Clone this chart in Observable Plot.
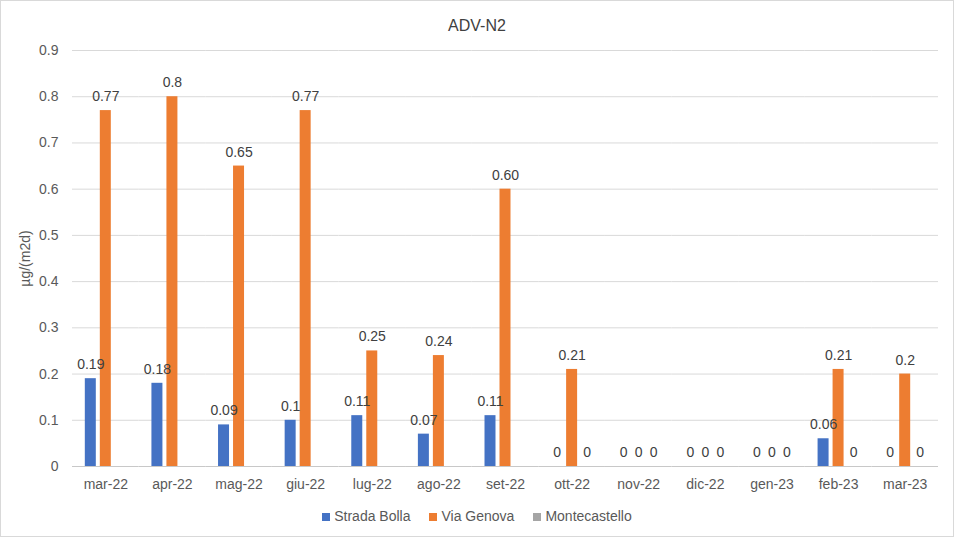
<!DOCTYPE html>
<html>
<head>
<meta charset="utf-8">
<script src="https://cdn.jsdelivr.net/npm/d3@7"></script>
<script src="https://cdn.jsdelivr.net/npm/@observablehq/plot@0.6"></script>
<style>
  html, body { margin: 0; padding: 0; background: #fff; }
  #wrap { position: relative; width: 952px; height: 535px; border: 1px solid #d9d9d9; font-family: "Liberation Sans", Arial, sans-serif; overflow: hidden; }
  #title { height: 40px; line-height: 50px; text-align: center; font-size: 16px; color: #404040; }
  #legend { display: flex; justify-content: center; gap: 19px; font-size: 14px; color: #595959; margin-top: 7px; }
  #legend span.sw { display: inline-block; width: 8px; height: 8px; margin-right: 4px; vertical-align: 0px; }
  svg { display: block; }
</style>
</head>
<body>
<div id="wrap">
  <div id="title">ADV-N2</div>
  <div id="chart"></div>
  <div id="legend"></div>
</div>
<script>
const months = ["mar-22","apr-22","mag-22","giu-22","lug-22","ago-22","set-22","ott-22","nov-22","dic-22","gen-23","feb-23","mar-23"];
const seriesNames = ["Strada Bolla","Via Genova","Montecastello"];
const seriesColors = ["#4472C4","#ED7D31","#A5A5A5"];
// values as printed in the data labels (null = no value)
const stradaBolla   = ["0.19","0.18","0.09","0.1","0.11","0.07","0.11","0","0","0","0","0.06","0"];
const viaGenova     = ["0.77","0.8","0.65","0.77","0.25","0.24","0.60","0.21","0","0","0","0.21","0.2"];
const montecastello = [null,null,null,null,null,null,null,"0","0","0","0","0","0"];
const yTicks = [0,0.1,0.2,0.3,0.4,0.5,0.6,0.7,0.8,0.9];
const yLabel = "µg/(m2d)";

const seriesValues = [stradaBolla, viaGenova, montecastello];
const data = [];
months.forEach((m, i) => {
  seriesNames.forEach((s, j) => {
    const v = seriesValues[j][i];
    if (v !== null) data.push({month: m, series: s, value: +v, label: v});
  });
});

const chart = Plot.plot({
  width: 952,
  height: 460,
  marginLeft: 71,
  marginRight: 15,
  marginTop: 9,
  marginBottom: 35,
  style: {fontFamily: '"Liberation Sans", Arial, sans-serif', fontSize: "14px", color: "#595959", background: "#fff"},
  fx: {domain: months, padding: 0, round: false, axis: "bottom", tickSize: 0, tickPadding: 13, label: null},
  x: {domain: seriesNames, paddingInner: 0.267, paddingOuter: 0.854, round: false, axis: null},
  y: {domain: [0, 0.9], ticks: yTicks, tickFormat: d => String(d), tickSize: 0, tickPadding: 14, label: yLabel, labelAnchor: "center", labelArrow: "none", labelOffset: 52, grid: false},
  color: {domain: seriesNames, range: seriesColors},
  marks: [
    Plot.ruleY(yTicks.filter(d => d > 0), {stroke: "#d9d9d9", strokeWidth: 1}),
    Plot.ruleY([0], {stroke: "#c8c8c8", strokeWidth: 1}),
    Plot.barY(data, {fx: "month", x: "series", y: "value", fill: "series"}),
    Plot.text(data, {fx: "month", x: "series", y: "value", text: "label", dy: -14, fill: "#404040", fontSize: 14})
  ]
});
document.getElementById("chart").appendChild(chart);

const legend = document.getElementById("legend");
seriesNames.forEach((s, i) => {
  const item = document.createElement("div");
  item.innerHTML = `<span class="sw" style="background:${seriesColors[i]}"></span>${s}`;
  legend.appendChild(item);
});
</script>
</body>
</html>
